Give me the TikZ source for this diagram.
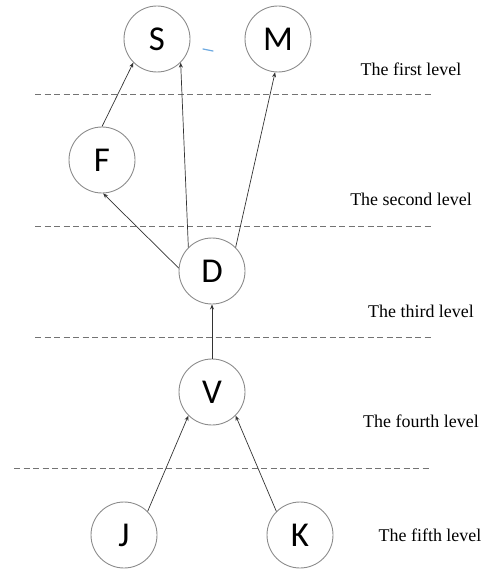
\documentclass[tikz,border=0pt]{standalone}
\usepackage{fontspec}
\setmainfont{Liberation Serif}
\newfontfamily\letterfont{Carlito}
\usetikzlibrary{arrows.meta}
\definecolor{markblue}{RGB}{110,170,225}

\begin{document}
\begin{tikzpicture}[x=1bp, y=-1bp,
    vertex/.style={circle, draw=black!45, line width=0.9bp, minimum size=66bp, inner sep=0pt, font=\letterfont\fontsize{35}{35}\selectfont},
    levelline/.style={draw=black!55, line width=0.9bp, dash pattern=on 6bp off 3.5bp},
    leveltext/.style={font=\fontsize{18}{18}\selectfont, text=black},
    link/.style={-{Stealth[length=5bp,width=4bp]}, draw=black!80, line width=0.7bp}]
    \useasboundingbox (0,0) rectangle (493,570);

    % Dashed level borders
    \draw[levelline] (35,94) -- (432,94);
    \draw[levelline] (35,226) -- (432,226);
    \draw[levelline] (35,337) -- (432,337);
    \draw[levelline] (14,468) -- (430,468);

    % Level names
    \node[leveltext] (first) at (411,69) {The first level};
    \node[leveltext] (second) at (411,199) {The second level};
    \node[leveltext] (third) at (421,311) {The third level};
    \node[leveltext] (fourth) at (421,421) {The fourth level};
    \node[leveltext] (fifth) at (430,535) {The fifth level};

    % Vertices
    \node[vertex] (S) at (157,39) {S};
    \node[vertex] (M) at (278,39) {M};
    \node[vertex] (F) at (102,160) {F};
    \node[vertex] (D) at (212,271) {D};
    \node[vertex] (V) at (212,392) {V};
    \node[vertex] (J) at (124,535) {J};
    \node[vertex] (K) at (300,535) {K};

    % Links
    \draw[link] (F.north) -- (S.225);
    \draw[link] (D.135) -- (S.-45);
    \draw[link] (D.45) -- (M.265);
    \draw[link] (D.175) -- (F.-88);
    \draw[link] (V.north) -- (D.south);
    \draw[link] (J.45) -- (V.225);
    \draw[link] (K.135) -- (V.-45);

    % Stray mark
    \draw[markblue, line width=1.2bp, line cap=round] (203,49) -- (213,51);
\end{tikzpicture}
\end{document}
